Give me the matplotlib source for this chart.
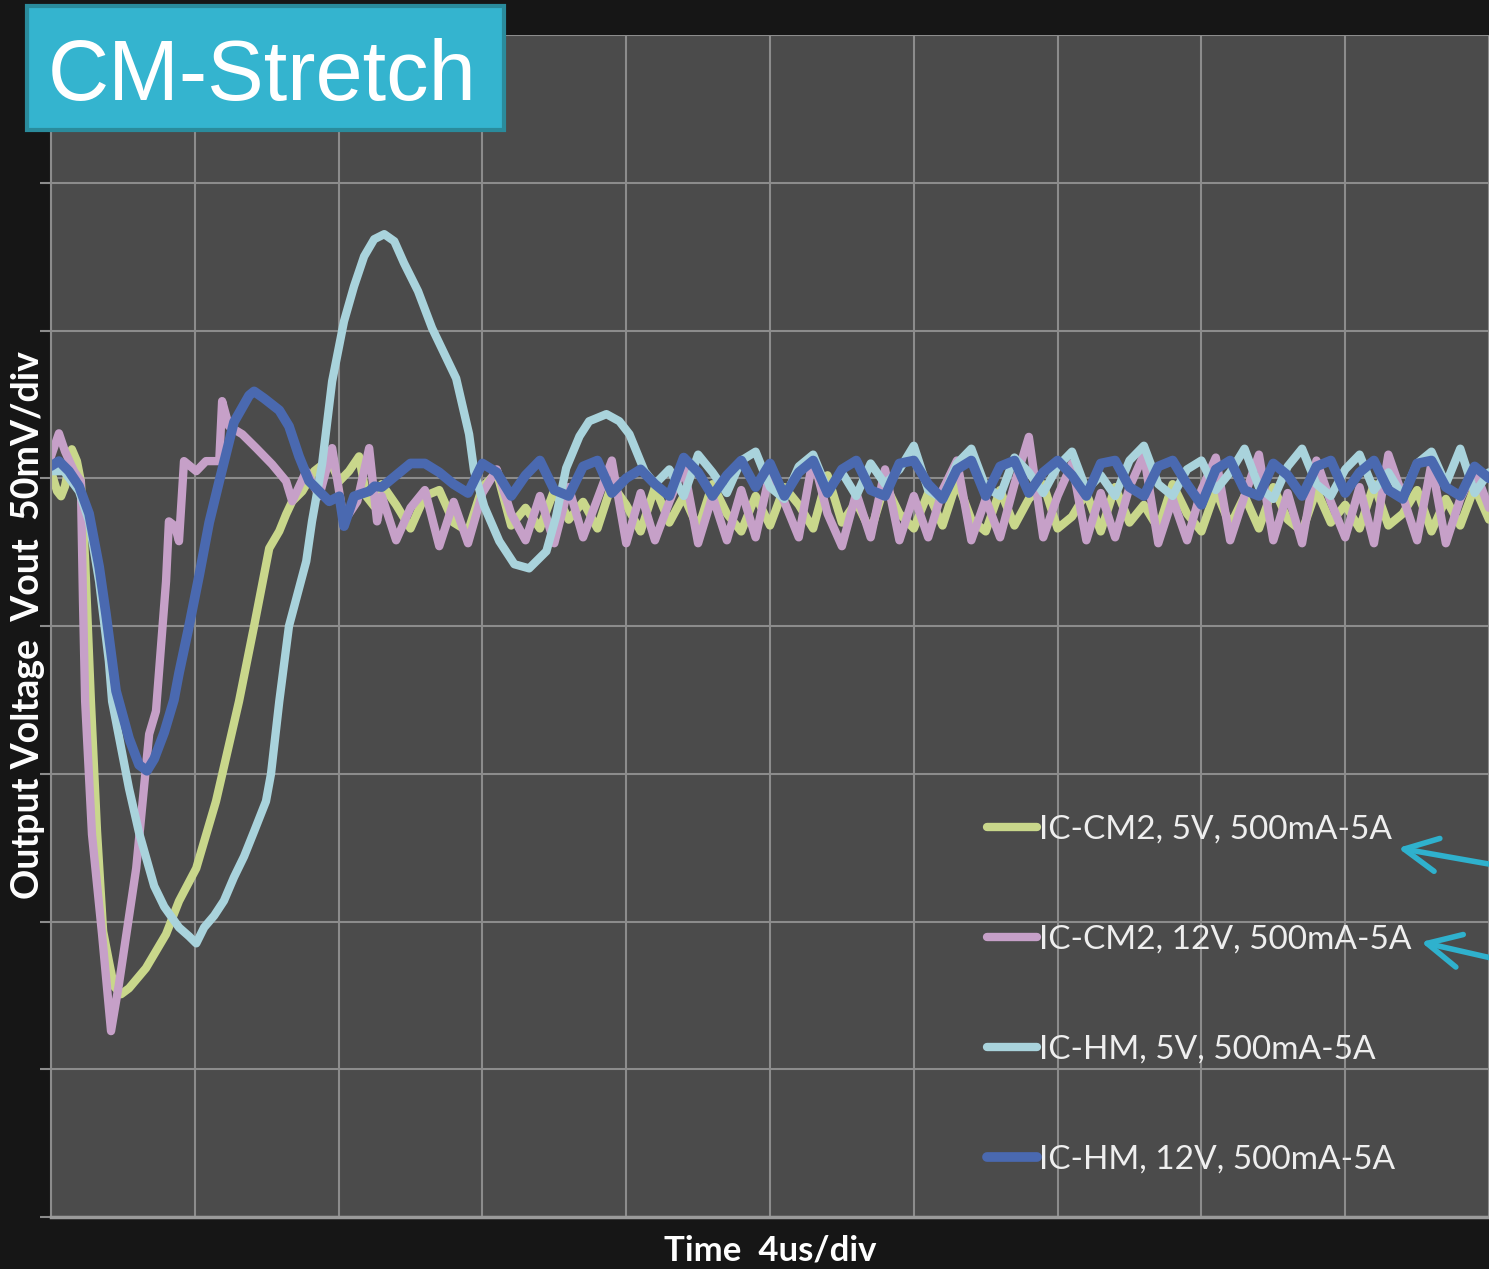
import matplotlib
matplotlib.use("Agg")
import matplotlib.pyplot as plt
from matplotlib.patches import Rectangle

W, H, DPI = 1489, 1269, 100

# sample times of the settled part of the traces (us)
SS_TIME = [9.2, 9.6, 10.0, 10.4, 10.8, 11.2, 11.6, 12.0, 12.4, 12.8,
           13.2, 13.6, 14.0, 14.4, 14.8, 15.2, 15.6, 16.0, 16.4, 16.8,
           17.2, 17.6, 18.0, 18.4, 18.8, 19.2, 19.6, 20.0, 20.4, 20.8,
           21.2, 21.6, 22.0, 22.4, 22.8, 23.2, 23.6, 24.0, 24.4, 24.8,
           25.2, 25.6, 26.0, 26.4, 26.8, 27.2, 27.6, 28.0, 28.4, 28.8,
           29.2, 29.6, 30.0, 30.4, 30.8, 31.2, 31.6, 32.0, 32.4, 32.8,
           33.2, 33.6, 34.0, 34.4, 34.8, 35.2, 35.6, 36.0, 36.4, 36.8,
           37.2, 37.6, 38.0, 38.4, 38.8, 39.2, 39.6, 40.0]

# IC-CM2, 5V : load step transient (us, mV deviation)
cm2_5v_t = [0, 0.17, 0.28, 0.39, 0.50, 0.58, 0.72, 0.83, 0.95, 1.11,
            1.28, 1.45, 1.61, 1.75, 1.95, 2.17, 2.64, 3.20, 3.56, 4.04,
            4.59, 5.23, 5.65, 6.07, 6.35, 6.54, 6.71, 6.99, 7.32, 7.74,
            8.02, 8.29, 8.57, 8.77, 8.99]
cm2_5v_v = [2.4, -4.4, -6.1, -2.7, 4.1, 9.8, 5.8, -1.0, -28.1, -75.5,
            -119.5, -153.3, -163.4, -171.9, -174.6, -172.6, -165.8, -154.3, -143.1, -132.0,
            -109.3, -75.5, -50.0, -23.7, -17.9, -12.2, -7.8, -4.4, 2.4, 6.4,
            -1.0, 2.4, 7.4, -6.1, -9.5]
cm2_5v_ss = [-2, -9, -17, -6, -4, -15, -18, -3, 2, -16,
             -10, -17, -4, -14, -8, -17, -2, -9, -18, -3,
             -15, -6, -17, -2, -12, -18, -6, -16, -3, -9,
             -17, 1, -15, -8, -18, -2, -12, -17, -5, -16,
             -1, -14, -18, -4, -16, -7, -2, -17, -13, -5,
             -18, -3, -15, -9, -17, -2, -12, -18, -4, -16,
             -6, -17, -3, -14, -18, -4, -15, -9, -17, -2,
             -16, -12, -4, -18, -7, -16, -3, -14]

# IC-CM2, 12V
cm2_12v_t = [0, 0.22, 0.39, 0.64, 0.83, 0.89, 0.95, 1.14, 1.42, 1.67,
             1.89, 2.37, 2.73, 2.92, 3.20, 3.28, 3.45, 3.56, 3.70, 4.04,
             4.31, 4.68, 4.76, 4.95, 5.32, 5.71, 6.15, 6.54, 6.71, 7.10,
             7.46, 7.82, 8.15, 8.52, 8.85, 9.07]
cm2_12v_v = [7.4, 15.2, 9.1, 2.4, -1.0, -41.6, -75.5, -120.5, -154.3, -187.1,
             -171.2, -132.0, -86.6, -78.8, -34.9, -14.6, -16.2, -21.3, 5.8, 2.4,
             5.8, 5.8, 26.1, 17.6, 14.9, 10.2, 4.7, -1.0, -7.8, 2.4,
             -6.1, 10.2, -14.6, -7.8, 10.2, -14.6]
cm2_12v_ss = [-6, -21, -10, -4, -23, -8, -22, -5, 3, -12,
              -21, -6, -22, -3, -20, -7, 6, -22, -5, -21,
              -8, 4, -22, -6, -21, -4, -20, 2, -8, -20,
              7, -12, -23, -5, -20, 3, -21, -6, -20, -4,
              6, -21, -7, -20, -2, 14, -20, -6, 5, -21,
              -5, -20, -3, 8, -22, -7, -21, -4, 7, -21,
              -6, 8, -21, -5, -22, 6, -8, -20, -3, -22,
              8, -6, -21, 5, -22, -7, 3, -10]

# IC-HM, 5V
hm_5v_t = [0, 0.36, 0.78, 1.06, 1.34, 1.61, 1.70, 2.17, 2.45, 2.87,
           3.15, 3.56, 3.84, 4.04, 4.26, 4.54, 4.81, 5.09, 5.37, 5.65,
           5.98, 6.12, 6.35, 6.62, 7.10, 7.26, 7.54, 7.82, 8.15, 8.43,
           8.71, 8.99, 9.27, 9.55, 9.82, 10.21, 10.60, 11.27, 11.63, 11.77,
           12.05, 12.47, 12.89, 13.30, 13.78, 14.05, 14.33, 14.70, 14.97, 15.45,
           15.81, 16.09, 16.51]
hm_5v_v = [2.4, 2.4, -4.4, -14.6, -35.0, -61.9, -75.5, -105.0, -120.0, -138.0,
           -145.0, -152.0, -155.0, -157.4, -152.0, -148.0, -143.0, -135.0, -128.0, -119.5,
           -109.3, -100.0, -75.5, -50.0, -28.1, -14.6, 4.7, 32.8, 53.1, 65.0,
           75.1, 80.9, 82.6, 80.2, 72.8, 63.3, 50.8, 33.8, 14.9, 2.4,
           -9.5, -21.3, -29.1, -30.5, -24.7, -12.9, 3.4, 14.2, 19.3, 21.7,
           19.3, 14.9, 2.4]
hm_5v_ss = [-2, 3, -6, 8, 2, -5, 6, 9, -3, -7,
            4, 8, -4, 2, -6, 5, -2, 3, 11, -4,
            -7, 5, 10, -3, -6, 7, 2, -5, 4, 9,
            -4, 1, -6, 6, 11, -2, -6, 3, 6, -4,
            2, 10, -3, -7, 4, 10, -2, -6, 3, 8,
            -4, 2, -6, 5, 9, -2, 10, -5, 2]

# IC-HM, 12V
hm_12v_t = [0, 0.22, 0.50, 0.78, 1.06, 1.34, 1.53, 1.81, 2.17, 2.45,
            2.67, 2.87, 3.15, 3.42, 3.56, 3.84, 4.12, 4.40, 4.68, 5.09,
            5.51, 5.65, 5.93, 6.35, 6.62, 6.90, 7.18, 7.46, 7.74, 8.02,
            8.15, 8.43, 8.85, 9.0]
hm_12v_v = [4.1, 5.8, 2.4, -2.7, -12.0, -30.0, -46.0, -72.0, -88.0, -97.0,
            -99.0, -95.0, -86.0, -75.0, -66.0, -50.0, -33.0, -15.0, -1.0, 19.0,
            28.0, 29.4, 27.0, 23.0, 17.6, 7.4, -1.0, -4.4, -7.8, -6.1,
            -16.2, -6.1, -4.4, -2.7]
hm_12v_ss = [-3, 1, 5, 5, 2, -2, -5, 5, 2, -6,
             1, 6, -4, -6, 4, 6, -5, 0, 3, -2,
             -6, 7, 2, -6, 1, 6, -3, 5, -6, 2,
             6, -5, 3, 6, -4, -6, 5, 6, -2, -7,
             3, 6, -6, 4, 6, -5, 2, 6, 1, -6,
             5, 6, -3, -6, 4, 6, -2, -9, 3, 6,
             -4, -6, 5, 1, -6, 4, 6, -5, 2, 6,
             -4, -7, 5, 6, -3, -6, 4, 0]

LABELS = ["IC-CM2, 5V, 500mA-5A", "IC-CM2, 12V, 500mA-5A",
          "IC-HM, 5V, 500mA-5A", "IC-HM, 12V, 500mA-5A"]
COLORS = ["#c9d78b", "#c6a0c8", "#a9d3dc", "#4a69b0"]
WIDTHS = [6, 6, 6, 7]

BG = "#161616"
PLOT_BG = "#4b4b4b"
GRID = "#8c8c8c"

traces = [
    (cm2_5v_t + SS_TIME, cm2_5v_v + cm2_5v_ss),
    (cm2_12v_t + SS_TIME, cm2_12v_v + cm2_12v_ss),
    (hm_5v_t + SS_TIME[19:], hm_5v_v + hm_5v_ss),
    (hm_12v_t + SS_TIME, hm_12v_v + hm_12v_ss),
]

fig = plt.figure(figsize=(W / DPI, H / DPI), dpi=DPI, facecolor=BG)
ax = fig.add_axes([51 / W, (H - 1217) / H, (W - 51) / W, (1217 - 35) / H])
ax.set_facecolor(PLOT_BG)

handles = []
for (t, v), color, lw in zip(traces, COLORS, WIDTHS):
    line, = ax.plot(t, v, color=color, lw=lw,
                    solid_capstyle="round", solid_joinstyle="round")
    handles.append(line)

ax.set_xlim(0, 40)
ax.set_ylim(-250, 150)
ax.set_xticks(range(0, 41, 4))
ax.set_yticks(range(-250, 151, 50))
ax.grid(True, color=GRID, lw=1.5)
ax.set_axisbelow(True)
ax.tick_params(axis="x", length=0, labelbottom=False)
ax.tick_params(axis="y", length=8, width=1.5, color=GRID, labelleft=False)
for side in ("top", "right"):
    ax.spines[side].set_visible(False)
ax.spines["left"].set_color(GRID)
ax.spines["left"].set_linewidth(1.5)
ax.spines["bottom"].set_color("#9a9a9a")
ax.spines["bottom"].set_linewidth(2.5)

fig.legend(handles, LABELS, loc="upper left",
           bbox_to_anchor=(987 / W, 1 - 815 / H),
           frameon=False, prop={"family": "Lato", "size": 24},
           labelcolor="#eeeeee", handlelength=1.5, handletextpad=0.05,
           labelspacing=2.4, borderpad=0, borderaxespad=0)

# axis titles
fig.text(28 / W, 1 - 625 / H, "Output Voltage  Vout  50mV/div", rotation=90,
         ha="center", va="center", fontsize=27, fontweight="bold",
         color="white", family="Lato")
fig.text(770 / W, (H - 1260) / H, "Time  4us/div", ha="center", va="baseline",
         fontsize=25, fontweight="bold", color="white", family="Lato")

# title badge
fig.add_artist(Rectangle((27 / W, 1 - 130 / H), 477 / W, 124 / H,
                         transform=fig.transFigure, facecolor="#34b4cf",
                         edgecolor="#2a8b9c", lw=3, zorder=10))
fig.text(48 / W, 1 - 100 / H, "CM-Stretch", fontsize=61, color="white",
         family="Liberation Sans", va="baseline", zorder=11)

# pointers to the CM2 entries
for tip, tail in [((1398, 421), (1500, 403)), ((1421, 327), (1500, 309))]:
    ax.annotate("", xy=tip, xycoords="figure pixels",
                xytext=tail, textcoords="figure pixels",
                arrowprops=dict(arrowstyle="->,head_length=1.2,head_width=0.6",
                                color="#2fb1cd", lw=4, mutation_scale=20,
                                shrinkA=0, shrinkB=0),
                annotation_clip=False)

fig.savefig("out.png", dpi=DPI, facecolor=BG)
